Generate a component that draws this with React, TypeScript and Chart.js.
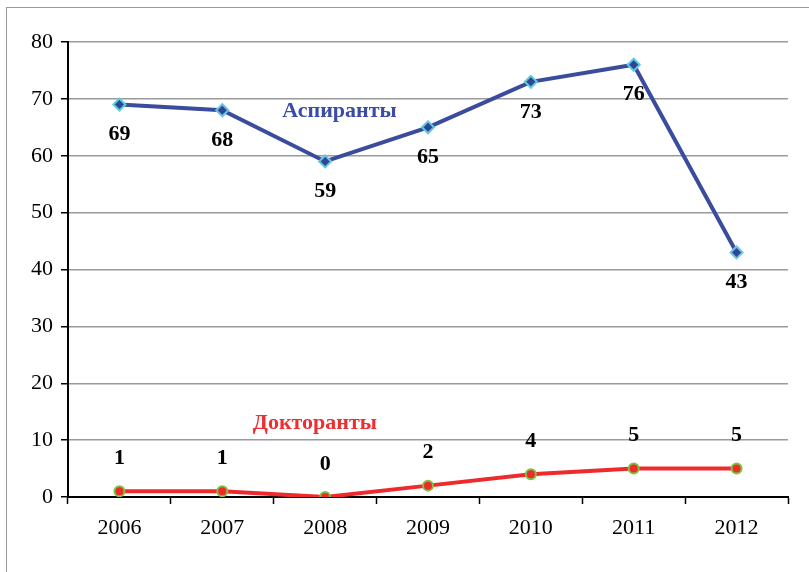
import React, { useEffect, useRef } from "react";
import { Chart, registerables } from "chart.js";

Chart.register(...registerables);

const years = ["2006", "2007", "2008", "2009", "2010", "2011", "2012"];
const aspiranty = [69, 68, 59, 65, 73, 76, 43];
const doktoranty = [1, 1, 0, 2, 4, 5, 5];
const seriesNames = ["Аспиранты", "Докторанты"];

const FONT = "'Liberation Serif', 'Times New Roman', serif";

const labelPlugin = {
  id: "customLabels",
  afterDatasetsDraw(chart: any) {
    const ctx = chart.ctx;
    ctx.save();
    ctx.font = `bold 22px ${FONT}`;
    ctx.fillStyle = "#000";
    ctx.textAlign = "center";
    ctx.textBaseline = "middle";
    chart.data.datasets.forEach((ds: any, di: number) => {
      const meta = chart.getDatasetMeta(di);
      meta.data.forEach((pt: any, i: number) => {
        const v = ds.data[i];
        const dy = di === 0 ? 30 : -33;
        ctx.fillText(String(v), pt.x, pt.y + dy);
      });
    });
    const xs = chart.scales.x;
    const ys = chart.scales.y;
    ctx.font = `bold 22px ${FONT}`;
    ctx.fillStyle = "#3B4CA6";
    ctx.fillText(seriesNames[0], xs.getPixelForValue(2.14), ys.getPixelForValue(67.9));
    ctx.fillStyle = "#EE2E31";
    ctx.fillText(seriesNames[1], xs.getPixelForValue(1.9), ys.getPixelForValue(13));
    ctx.restore();
  },
};

export default function App() {
  const ref = useRef<HTMLCanvasElement>(null);
  useEffect(() => {
    const chart = new Chart(ref.current!, {
      type: "line",
      data: {
        labels: years,
        datasets: [
          {
            label: seriesNames[0],
            data: aspiranty,
            borderColor: "#3A4C9E",
            borderWidth: 4,
            pointStyle: "rectRot",
            pointRadius: 6,
            pointBorderWidth: 2,
            pointBackgroundColor: "#2F4696",
            pointBorderColor: "#62C8DE",
            tension: 0,
          },
          {
            label: seriesNames[1],
            data: doktoranty,
            borderColor: "#EE2A2C",
            borderWidth: 4,
            pointStyle: "circle",
            pointRadius: 5,
            pointBorderWidth: 2,
            pointBackgroundColor: "#EE2A2C",
            pointBorderColor: "#7DC242",
            tension: 0,
          },
        ],
      },
      options: {
        animation: false,
        responsive: false,
        maintainAspectRatio: false,
        layout: { padding: { top: 42, right: 21, left: 0, bottom: 0 } },
        plugins: { legend: { display: false }, tooltip: { enabled: false } },
        scales: {
          x: {
            offset: true,
            grid: {
              offset: true,
              drawOnChartArea: false,
              tickLength: 7,
              tickColor: "#000",
              tickWidth: 1.5,
            },
            border: { color: "#000", width: 2 },
            ticks: {
              color: "#000",
              padding: 11,
              font: { family: FONT, size: 22 },
              maxRotation: 0,
            },
            afterFit(scale: any) {
              scale.height = 75;
            },
          },
          y: {
            min: 0,
            max: 80,
            ticks: {
              stepSize: 10,
              color: "#000",
              padding: 8,
              font: { family: FONT, size: 22 },
            },
            grid: {
              color: "#9A9A9A",
              lineWidth: 1.5,
              tickLength: 7,
              tickColor: "#000",
              tickWidth: 1.5,
            },
            border: { color: "#000", width: 2 },
            afterFit(scale: any) {
              scale.width = 68;
            },
          },
        },
      },
      plugins: [labelPlugin],
    });
    return () => chart.destroy();
  }, []);
  return (
    <div style={{ position: "fixed", left: 0, top: 0, width: 809, height: 572, background: "#fff" }}>
      <div
        style={{
          position: "absolute",
          left: 6,
          top: 7,
          width: 820,
          height: 580,
          borderLeft: "1.5px solid #9A9A9A",
          borderTop: "1.5px solid #9A9A9A",
          boxSizing: "border-box",
        }}
      />
      <canvas ref={ref} width={809} height={572} style={{ position: "absolute", left: 0, top: 0 }} />
    </div>
  );
}
